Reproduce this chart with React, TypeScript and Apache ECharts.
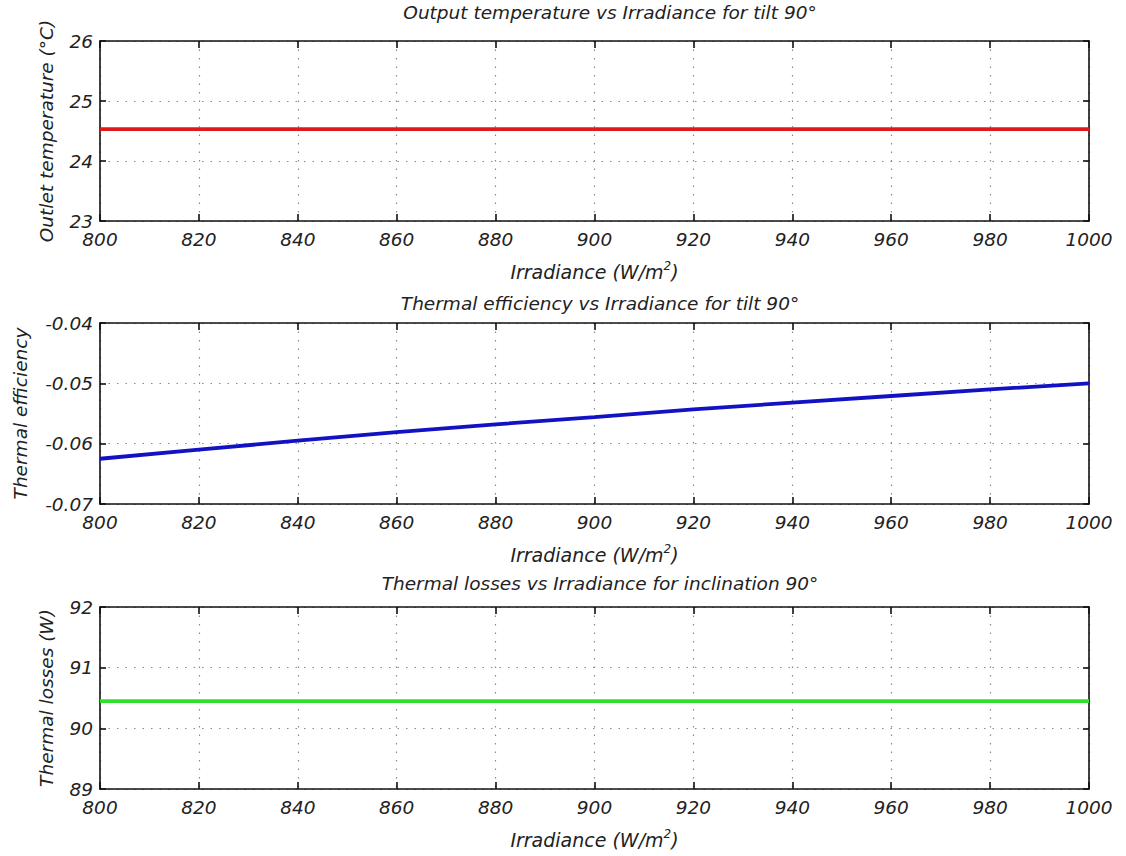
import React, { useEffect, useRef } from "react";
import * as echarts from "echarts";

// Irradiance sample points (W/m²)
const irradiance = [800, 820, 840, 860, 880, 900, 920, 940, 960, 980, 1000];
// Outlet temperature (°C)
const outletTemperature = [24.53, 24.53, 24.53, 24.53, 24.53, 24.53, 24.53, 24.53, 24.53, 24.53, 24.53];
// Thermal efficiency (-)
const thermalEfficiency = [-0.0625, -0.061, -0.0595, -0.0581, -0.0568, -0.0556, -0.0543, -0.0532, -0.0521, -0.051, -0.05];
// Thermal losses (W)
const thermalLosses = [90.45, 90.45, 90.45, 90.45, 90.45, 90.45, 90.45, 90.45, 90.45, 90.45, 90.45];

const titles = [
  "Output temperature vs Irradiance for tilt 90°",
  "Thermal efficiency vs Irradiance for tilt 90°",
  "Thermal losses vs Irradiance for inclination 90°",
];
const yNames = ["Outlet temperature (°C)", "Thermal efficiency", "Thermal losses (W)"];
const yRanges = [
  { min: 23, max: 26, interval: 1, digits: 0 },
  { min: -0.07, max: -0.04, interval: 0.01, digits: 2 },
  { min: 89, max: 92, interval: 1, digits: 0 },
];
const seriesData = [outletTemperature, thermalEfficiency, thermalLosses];
const seriesColors = ["#e01a1a", "#1212c4", "#2fe02f"];

const FONT = "'DejaVu Sans', Verdana, sans-serif";
const grids = [
  { left: 100, top: 41, width: 989, height: 180 },
  { left: 100, top: 323, width: 989, height: 181 },
  { left: 100, top: 607, width: 989, height: 182 },
];
const titlePos = [
  { x: 605, y: -2 },
  { x: 595, y: 289 },
  { x: 595, y: 569 },
];
const yNameGaps = [44, 70, 44];

export default function App() {
  const ref = useRef<HTMLDivElement>(null);

  useEffect(() => {
    if (!ref.current) return;
    const chart = echarts.init(ref.current, null, { renderer: "svg" });

    const labelStyle = { color: "#222", fontSize: 18.5, fontStyle: "italic" as const, fontFamily: FONT };
    const boxLine = { show: true, onZero: false, lineStyle: { color: "#111", width: 1.6 } };
    const tick = (len: number) => ({ show: true, inside: true, length: len, lineStyle: { color: "#111", width: 1.6 } });
    const dotted = { show: true, lineStyle: { color: "#8a8a8a", width: 1.2, type: [1.5, 7] as number[] } };

    const xAxis: any[] = [];
    const yAxis: any[] = [];
    const series: any[] = [];
    const title: any[] = [];

    grids.forEach((g, i) => {
      const yr = yRanges[i];
      title.push({
        text: titles[i],
        left: titlePos[i].x,
        textAlign: "center",
        top: titlePos[i].y,
        textStyle: { color: "#222", fontSize: 18.5, fontWeight: "normal", fontStyle: "italic", fontFamily: FONT },
      });
      // bottom x axis with labels and grid
      xAxis.push({
        type: "value",
        gridIndex: i,
        min: 800,
        max: 1000,
        interval: 20,
        position: "bottom",
        axisLine: boxLine,
        axisTick: tick(7),
        splitLine: dotted,
        axisLabel: { ...labelStyle, margin: 9, formatter: (v: number) => String(v) },
        name: "Irradiance (W/m{sup|2})",
        nameLocation: "middle",
        nameGap: 39,
        nameTextStyle: {
          ...labelStyle,
          fontSize: 19,
          lineHeight: 24,
          rich: {
            sup: { fontSize: 12, lineHeight: 12, verticalAlign: "top", fontStyle: "italic", fontFamily: FONT, color: "#222" },
          },
        },
      });
      // top x axis (box edge)
      xAxis.push({
        type: "value",
        gridIndex: i,
        min: 800,
        max: 1000,
        interval: 20,
        position: "top",
        axisLine: boxLine,
        axisTick: tick(7),
        splitLine: { show: false },
        axisLabel: { show: false },
      });
      yAxis.push({
        type: "value",
        gridIndex: i,
        min: yr.min,
        max: yr.max,
        interval: yr.interval,
        position: "left",
        axisLine: boxLine,
        axisTick: tick(6),
        splitLine: dotted,
        axisLabel: {
          ...labelStyle,
          margin: 7,
          formatter: (v: number) => (Math.round(v / yr.interval) * yr.interval).toFixed(yr.digits),
        },
        name: yNames[i],
        nameLocation: "middle",
        nameGap: yNameGaps[i],
        nameRotate: 90,
        nameTextStyle: { ...labelStyle, fontSize: 18.5 },
      });
      yAxis.push({
        type: "value",
        gridIndex: i,
        min: yr.min,
        max: yr.max,
        interval: yr.interval,
        position: "right",
        axisLine: boxLine,
        axisTick: tick(6),
        splitLine: { show: false },
        axisLabel: { show: false },
      });
      series.push({
        type: "line",
        xAxisIndex: i * 2,
        yAxisIndex: i * 2,
        data: irradiance.map((x, k) => [x, seriesData[i][k]]),
        showSymbol: false,
        symbol: "none",
        lineStyle: { color: seriesColors[i], width: 3.8 },
        z: 5,
      });
    });

    chart.setOption({
      animation: false,
      backgroundColor: "#ffffff",
      title,
      grid: grids.map((g) => ({ ...g, containLabel: false })),
      xAxis,
      yAxis,
      series,
    });

    return () => chart.dispose();
  }, []);

  return (
    <div
      ref={ref}
      style={{ position: "fixed", left: 0, top: 0, width: 1126, height: 856, background: "#fff" }}
    />
  );
}
